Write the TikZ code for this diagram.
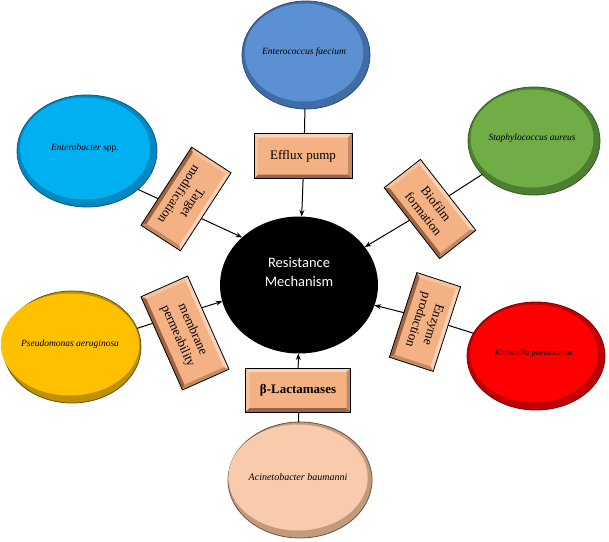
\documentclass[tikz,border=0pt]{standalone}
\usepackage{fontspec}
\setmainfont{Liberation Serif}
\newfontfamily\calib{Carlito}
\usetikzlibrary{shapes.geometric,arrows.meta,calc}

\definecolor{e1main}{HTML}{5B91D2}\definecolor{e1ring}{HTML}{3F6DA6}\definecolor{e1edge}{HTML}{2E4F78}
\definecolor{e2main}{HTML}{00B0F0}\definecolor{e2ring}{HTML}{0088C0}\definecolor{e2edge}{HTML}{005A82}
\definecolor{e3main}{HTML}{70AD47}\definecolor{e3ring}{HTML}{4E7F30}\definecolor{e3edge}{HTML}{375A22}
\definecolor{e4main}{HTML}{FFC000}\definecolor{e4ring}{HTML}{C09000}\definecolor{e4edge}{HTML}{5F5020}
\definecolor{e5main}{HTML}{FF0000}\definecolor{e5ring}{HTML}{C00000}\definecolor{e5edge}{HTML}{7A0000}
\definecolor{e6main}{HTML}{F8CBAD}\definecolor{e6ring}{HTML}{C49A7C}\definecolor{e6edge}{HTML}{6E5444}
\definecolor{boxmain}{HTML}{F4B183}
\definecolor{bvtopc}{HTML}{F9D2B8}
\definecolor{bvleftc}{HTML}{F6C3A0}
\definecolor{bvrightc}{HTML}{C58A63}
\definecolor{bvbotc}{HTML}{9C6440}

\tikzset{
  ering/.style={ellipse, inner sep=0, outer sep=0, line width=0.8pt},
  ein/.style={ellipse, inner sep=0, outer sep=0, font=\itshape\fontsize{9.5}{11}\selectfont, text=black},
  conn/.style={line width=1pt, draw=black},
  arr/.style={conn, -{Stealth[length=6.5pt,width=5pt]}},
  bxo/.style={rectangle, inner sep=0, outer sep=0, fill=boxmain},
  bxi/.style={rectangle, inner sep=0, outer sep=0, fill=boxmain, align=center,
              font=\fontsize{13}{16}\selectfont, text=black},
  bvedge/.style={line width=0.8pt, draw=black, line join=miter},
}

% name, position, width, height, inner width, inner height, text
\newcommand\bact[7]{%
  \node[ering, fill=#1ring, draw=#1edge, minimum width=#3, minimum height=#4] (#1) at (#2) {};
  \node[ein, fill=#1main, minimum width=#5, minimum height=#6] (#1i) at ($(#2)+(-2,2.5)$) {#7};
}

% name, position, rotation, width, height, inner width, inner height, text
\newcommand\bevbox[8]{%
  \node[bxo, rotate=#3, minimum width=#4, minimum height=#5] (#1) at (#2) {};
  \node[bxi, rotate=#3, minimum width=#6, minimum height=#7] (#1i) at (#2) {#8};
  \fill[bvtopc] (#1.north west) -- (#1.north east) -- (#1i.north east) -- (#1i.north west) -- cycle;
  \fill[bvleftc] (#1.north west) -- (#1i.north west) -- (#1i.south west) -- (#1.south west) -- cycle;
  \fill[bvbotc] (#1.south west) -- (#1.south east) -- (#1i.south east) -- (#1i.south west) -- cycle;
  \fill[bvrightc] (#1.north east) -- (#1.south east) -- (#1i.south east) -- (#1i.north east) -- cycle;
  \draw[bvedge] (#1.north west) -- (#1.north east) -- (#1.south east) -- (#1.south west) -- cycle;
}

\begin{document}
\begin{tikzpicture}[x=1pt,y=1pt]
\useasboundingbox (0,0) rectangle (609,-541);

% bacteria
\bact{e1}{306,-55}{128}{108}{118}{98}{Enterococcus faecium}
\bact{e2}{87,-151}{140}{112}{130}{102}{Enterobacter \upshape spp.}
\bact{e3}{534,-141}{132}{108}{122}{98}{Staphylococcus aureus}
\bact{e4}{72,-347}{138}{112}{128}{102}{Pseudomonas aeruginosa}
\bact{e5}{536,-356}{138}{108}{128}{98}{\fontsize{8.5}{10}\selectfont Klebsiella pneumoniae}
\bact{e6}{300,-480}{144}{116}{134}{106}{\fontsize{10}{12}\selectfont Acinetobacter baumanni}

% centre
\node[ellipse, fill=black, inner sep=0, outer sep=0, minimum width=158, minimum height=137] (c) at (299,-285) {};
\node[font=\calib\fontsize{14.5}{19}\selectfont, text=white, align=center] (ct) at (299,-272) {Resistance\\Mechanism};

% crossing points inside the boxes
\coordinate (b1m) at (304,-156);
\coordinate (b2m) at (185,-211);
\coordinate (b3m) at (430,-208);
\coordinate (b4m) at (185,-313);
\coordinate (b5m) at (425,-318);
\coordinate (b6m) at (298,-390);

% connectors
\draw[conn] (e1) -- (b1m);
\draw[arr] (b1m) -- (c);
\draw[conn] (e2.-37) -- (b2m);
\draw[arr] (b2m) -- (c.140);
\draw[conn] (e3) -- (b3m);
\draw[arr] (b3m) -- (c.30);
\draw[conn] (e4.16) -- (b4m);
\draw[arr] (b4m) -- (c.192);
\draw[conn] (e5.160) -- (b5m);
\draw[arr] (b5m) -- (c.-15);
\draw[conn] (e6) -- (b6m);
\draw[arr] (b6m) -- (c);

% mechanism boxes
\bevbox{b1}{303,-156}{0}{98}{45}{90}{37}{Efflux pump}
\bevbox{b2}{186,-199}{-123}{93}{47}{85}{39}{Target\\modification}
\bevbox{b3}{430,-209}{-52}{90}{46}{82}{38}{Biofilm\\formation}
\bevbox{b4}{185,-333}{-66}{102}{51}{94}{43}{membrane\\permeability}
\bevbox{b5}{425,-322}{-108}{89}{46}{81}{38}{Enzyme\\production}
\bevbox{b6}{298,-390}{0}{105}{44}{97}{36}{\bfseries β-Lactamases}
\end{tikzpicture}
\end{document}
